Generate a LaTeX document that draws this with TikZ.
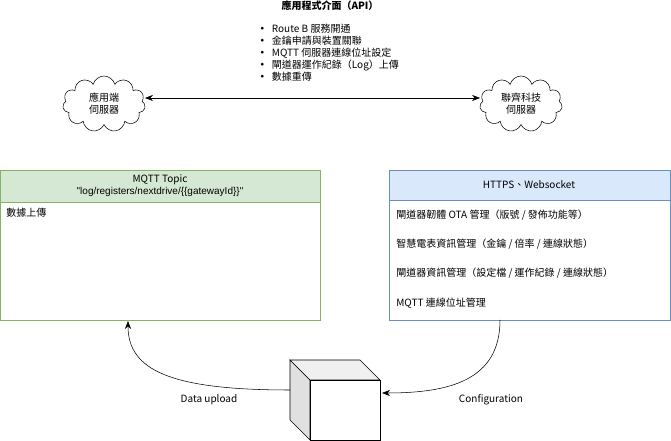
\documentclass[tikz,border=0pt]{standalone}
\usepackage{fontspec}
\setmainfont{Noto Sans CJK TC}
\newfontfamily\latinfont{Liberation Sans}
\usetikzlibrary{shapes.symbols,arrows.meta}
\definecolor{greenfill}{HTML}{D5E8D4}
\definecolor{greenline}{HTML}{82B366}
\definecolor{bluefill}{HTML}{DAE8FC}
\definecolor{blueline}{HTML}{6C8EBF}
\tikzset{
  txt/.style={font=\fontsize{7.5}{9}\selectfont, inner sep=0pt},
  server/.style={cloud, draw, cloud puffs=11, aspect=1.6, minimum width=62pt, minimum height=42pt,
                 align=center, txt},
  conn/.style={draw, -{Stealth[length=6pt]}},
}
\begin{document}
\begin{tikzpicture}[x=0.75pt,y=-0.75pt]
    \useasboundingbox (0,0) rectangle (671,441);

      % API description
      \node[txt, font=\fontsize{7.5}{9}\selectfont\bfseries] (title) at (330,6) {應用程式介面（API）};
      \node[txt, anchor=north west, align=left] (list) at (257,24) {%
        \textbf{•}\hspace{3.5pt}Route B 服務開通\\
        \textbf{•}\hspace{3.5pt}金鑰申請與裝置關聯\\
        \textbf{•}\hspace{3.5pt}MQTT 伺服器連線位址設定\\
        \textbf{•}\hspace{3.5pt}閘道器運作紀錄（Log）上傳\\
        \textbf{•}\hspace{3.5pt}數據重傳};

      % Servers
      \node[server] (app) at (104,104) {應用端\\伺服器};
      \node[server] (nd) at (521,104) {聯齊科技\\伺服器};
      \draw[{Stealth[length=6pt]}-{Stealth[length=6pt]}] (app.east |- 0,98) -- (nd.west |- 0,98);

      % MQTT box
      \draw[greenline, fill=greenfill] (0,170) rectangle (320,202);
      \draw[greenline] (0,202) rectangle (320,320);
      \node[txt, align=center] (mqtt) at (160,186) {MQTT Topic\\{\latinfont\symbol{34}log/registers/nextdrive/\{\{gatewayId\}\}\symbol{34}}};
      \node[txt, anchor=west] (data) at (6,213) {數據上傳};

      % HTTPS box
      \draw[blueline, fill=bluefill] (389,170) rectangle (670,200);
      \draw[blueline] (389,200) rectangle (670,320);
      \node[txt] (https) at (529,185) {HTTPS、Websocket};
      \node[txt, anchor=west] (ota) at (396,215) {閘道器韌體 OTA 管理（版號 / 發佈功能等）};
      \node[txt, anchor=west] (meter) at (396,244) {智慧電表資訊管理（金鑰 / 倍率 / 連線狀態）};
      \node[txt, anchor=west] (gw) at (396,273) {閘道器資訊管理（設定檔 / 運作紀錄 / 連線狀態）};
      \node[txt, anchor=west] (addr) at (396,303) {MQTT 連線位址管理};

      % Gateway cube
      \draw[fill=black!12] (290,360) -- (310,380) -- (310,440) -- (290,420) -- cycle;
      \draw[fill=black!6] (290,360) -- (360,360) -- (380,380) -- (310,380) -- cycle;
      \draw[fill=white] (310,380) rectangle (380,440);
      \coordinate (gwout) at (290,390);
      \coordinate (gwin) at (382,393);
      \coordinate (mqttin) at (128,321);
      \coordinate (httpsout) at (500,320);

      % Links
      \draw[conn] (gwout) .. controls (170,390) and (128,370) .. (mqttin);
      \draw[conn] (httpsout) .. controls (500,380) and (450,393) .. (gwin);
      \node[txt] (up) at (209,400) {Data upload};
      \node[txt] (cfg) at (491,400) {Configuration};
\end{tikzpicture}
\end{document}
